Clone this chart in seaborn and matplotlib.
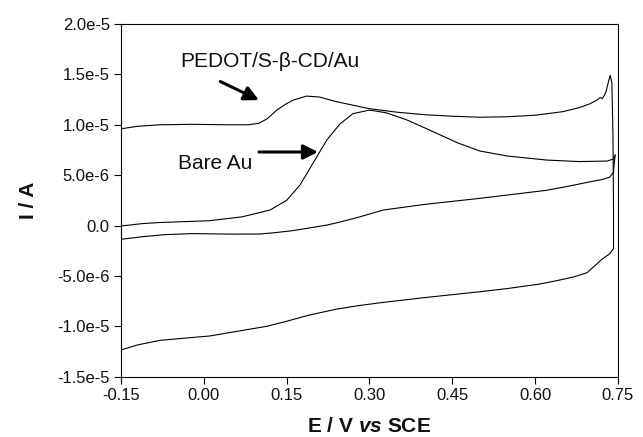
import numpy as np
import pandas as pd
import matplotlib.pyplot as plt
from matplotlib.ticker import FixedLocator, FixedFormatter
import seaborn as sns

# potentials in V vs SCE, currents in uA
pedot_fwd_E = [-0.15, -0.12, -0.08, -0.02, 0.04, 0.08, 0.10, 0.115, 0.132, 0.15, 0.162, 0.186,
               0.21, 0.24, 0.30, 0.35, 0.40, 0.45, 0.50, 0.55, 0.60, 0.65, 0.68, 0.70,
               0.712, 0.718, 0.722, 0.728, 0.733, 0.736, 0.739, 0.741, 0.742, 0.742]
pedot_fwd_I = [9.6, 9.85, 10.0, 10.05, 10.0, 10.0, 10.15, 10.6, 11.45, 12.1, 12.45, 12.85,
               12.75, 12.3, 11.6, 11.25, 11.0, 10.85, 10.75, 10.8, 10.95, 11.3, 11.7, 12.1,
               12.45, 12.7, 12.6, 13.2, 14.3, 14.9, 14.2, 9.0, 2.0, -2.3]
pedot_rev_E = [0.742, 0.735, 0.72, 0.694, 0.67, 0.645, 0.609, 0.55, 0.50, 0.40, 0.32,
               0.28, 0.24, 0.19, 0.15, 0.114, 0.06, 0.011, -0.04, -0.08, -0.12, -0.15]
pedot_rev_I = [-2.3, -2.8, -3.4, -4.68, -5.1, -5.4, -5.8, -6.25, -6.57, -7.15, -7.66,
               -7.95, -8.3, -8.9, -9.5, -10.0, -10.5, -10.96, -11.2, -11.4, -11.85, -12.35]

bare_fwd_E = [-0.15, -0.11, -0.08, 0.01, 0.07, 0.12, 0.15, 0.156, 0.174, 0.198, 0.223,
              0.247, 0.27, 0.30, 0.33, 0.367, 0.40, 0.428, 0.46, 0.50, 0.55, 0.621, 0.68,
              0.73, 0.742, 0.745]
bare_fwd_I = [-0.05, 0.2, 0.3, 0.48, 0.87, 1.54, 2.5, 2.86, 4.0, 6.2, 8.5,
              10.1, 11.1, 11.46, 11.2, 10.5, 9.7, 9.0, 8.2, 7.4, 6.9, 6.5, 6.35,
              6.4, 6.6, 7.0]
bare_rev_E = [0.745, 0.743, 0.742, 0.735, 0.72, 0.70, 0.66, 0.621, 0.50, 0.40, 0.325,
              0.283, 0.247, 0.223, 0.19, 0.162, 0.13, 0.102, 0.05, -0.02, -0.07,
              -0.11, -0.15]
bare_rev_I = [7.0, 6.0, 5.3, 4.8, 4.55, 4.35, 3.9, 3.5, 2.7, 2.1, 1.54,
              0.87, 0.35, 0.05, -0.25, -0.5, -0.7, -0.84, -0.85, -0.8, -0.9,
              -1.1, -1.37]

x_ticks = [-0.15, 0.0, 0.15, 0.30, 0.45, 0.60, 0.75]
x_labels = ["-0.15", "0.00", "0.15", "0.30", "0.45", "0.60", "0.75"]
y_ticks = [2.0e-5, 1.5e-5, 1.0e-5, 5.0e-6, 0.0, -5.0e-6, -1.0e-5, -1.5e-5]
y_labels = ["2.0e-5", "1.5e-5", "1.0e-5", "5.0e-6", "0.0", "-5.0e-6", "-1.0e-5", "-1.5e-5"]

sns.set_style('ticks')
plt.rcParams['font.family'] = ['Liberation Sans', 'DejaVu Sans']
plt.rcParams['mathtext.fontset'] = 'custom'
plt.rcParams['mathtext.bfit'] = 'Liberation Sans:italic:bold'
plt.rcParams['mathtext.rm'] = 'Liberation Sans'
plt.rcParams['text.color'] = '#111111'
plt.rcParams['axes.labelcolor'] = '#111111'

fig = plt.figure(figsize=(6.43, 4.37), dpi=100)
ax = fig.add_axes([0.188, 0.138, 0.773, 0.807])

branches = [(pedot_fwd_E, pedot_fwd_I), (pedot_rev_E, pedot_rev_I),
            (bare_fwd_E, bare_fwd_I), (bare_rev_E, bare_rev_I)]
for E, I in branches:
    d = pd.DataFrame({'E': E, 'I': np.array(I) * 1e-6})
    sns.lineplot(data=d, x='E', y='I', sort=False, estimator=None,
                 color='black', lw=0.8, ax=ax)

ax.set_xlim(-0.15, 0.75)
ax.set_ylim(-1.5e-5, 2.0e-5)
ax.xaxis.set_major_locator(FixedLocator(x_ticks))
ax.xaxis.set_major_formatter(FixedFormatter(x_labels))
ax.yaxis.set_major_locator(FixedLocator(y_ticks))
ax.yaxis.set_major_formatter(FixedFormatter(y_labels))
ax.tick_params(direction='out', length=5, width=0.8, labelsize=12,
               colors='black', labelcolor='#111111', pad=3)
for s in ax.spines.values():
    s.set_color('black')
    s.set_linewidth(0.8)

ax.set_xlabel(r"E / V $\mathbfit{vs}$ SCE", fontsize=15, fontweight='bold', labelpad=10)
ax.set_ylabel("I / A", fontsize=15, fontweight='bold', labelpad=14)

ax.text(-0.043, 1.63e-5, "PEDOT/S-\u03b2-CD/Au", fontsize=15, va='center', ha='left')
ax.text(-0.047, 6.2e-6, "Bare Au", fontsize=15, va='center', ha='left')
arrow = dict(arrowstyle='-|>', color='black', lw=2.2, mutation_scale=22, shrinkA=0, shrinkB=0)
ax.annotate("", xy=(0.10, 1.245e-5), xytext=(0.03, 1.43e-5), arrowprops=arrow)
ax.annotate("", xy=(0.207, 7.3e-6), xytext=(0.10, 7.3e-6), arrowprops=arrow)

plt.savefig('out.png', dpi=100)
